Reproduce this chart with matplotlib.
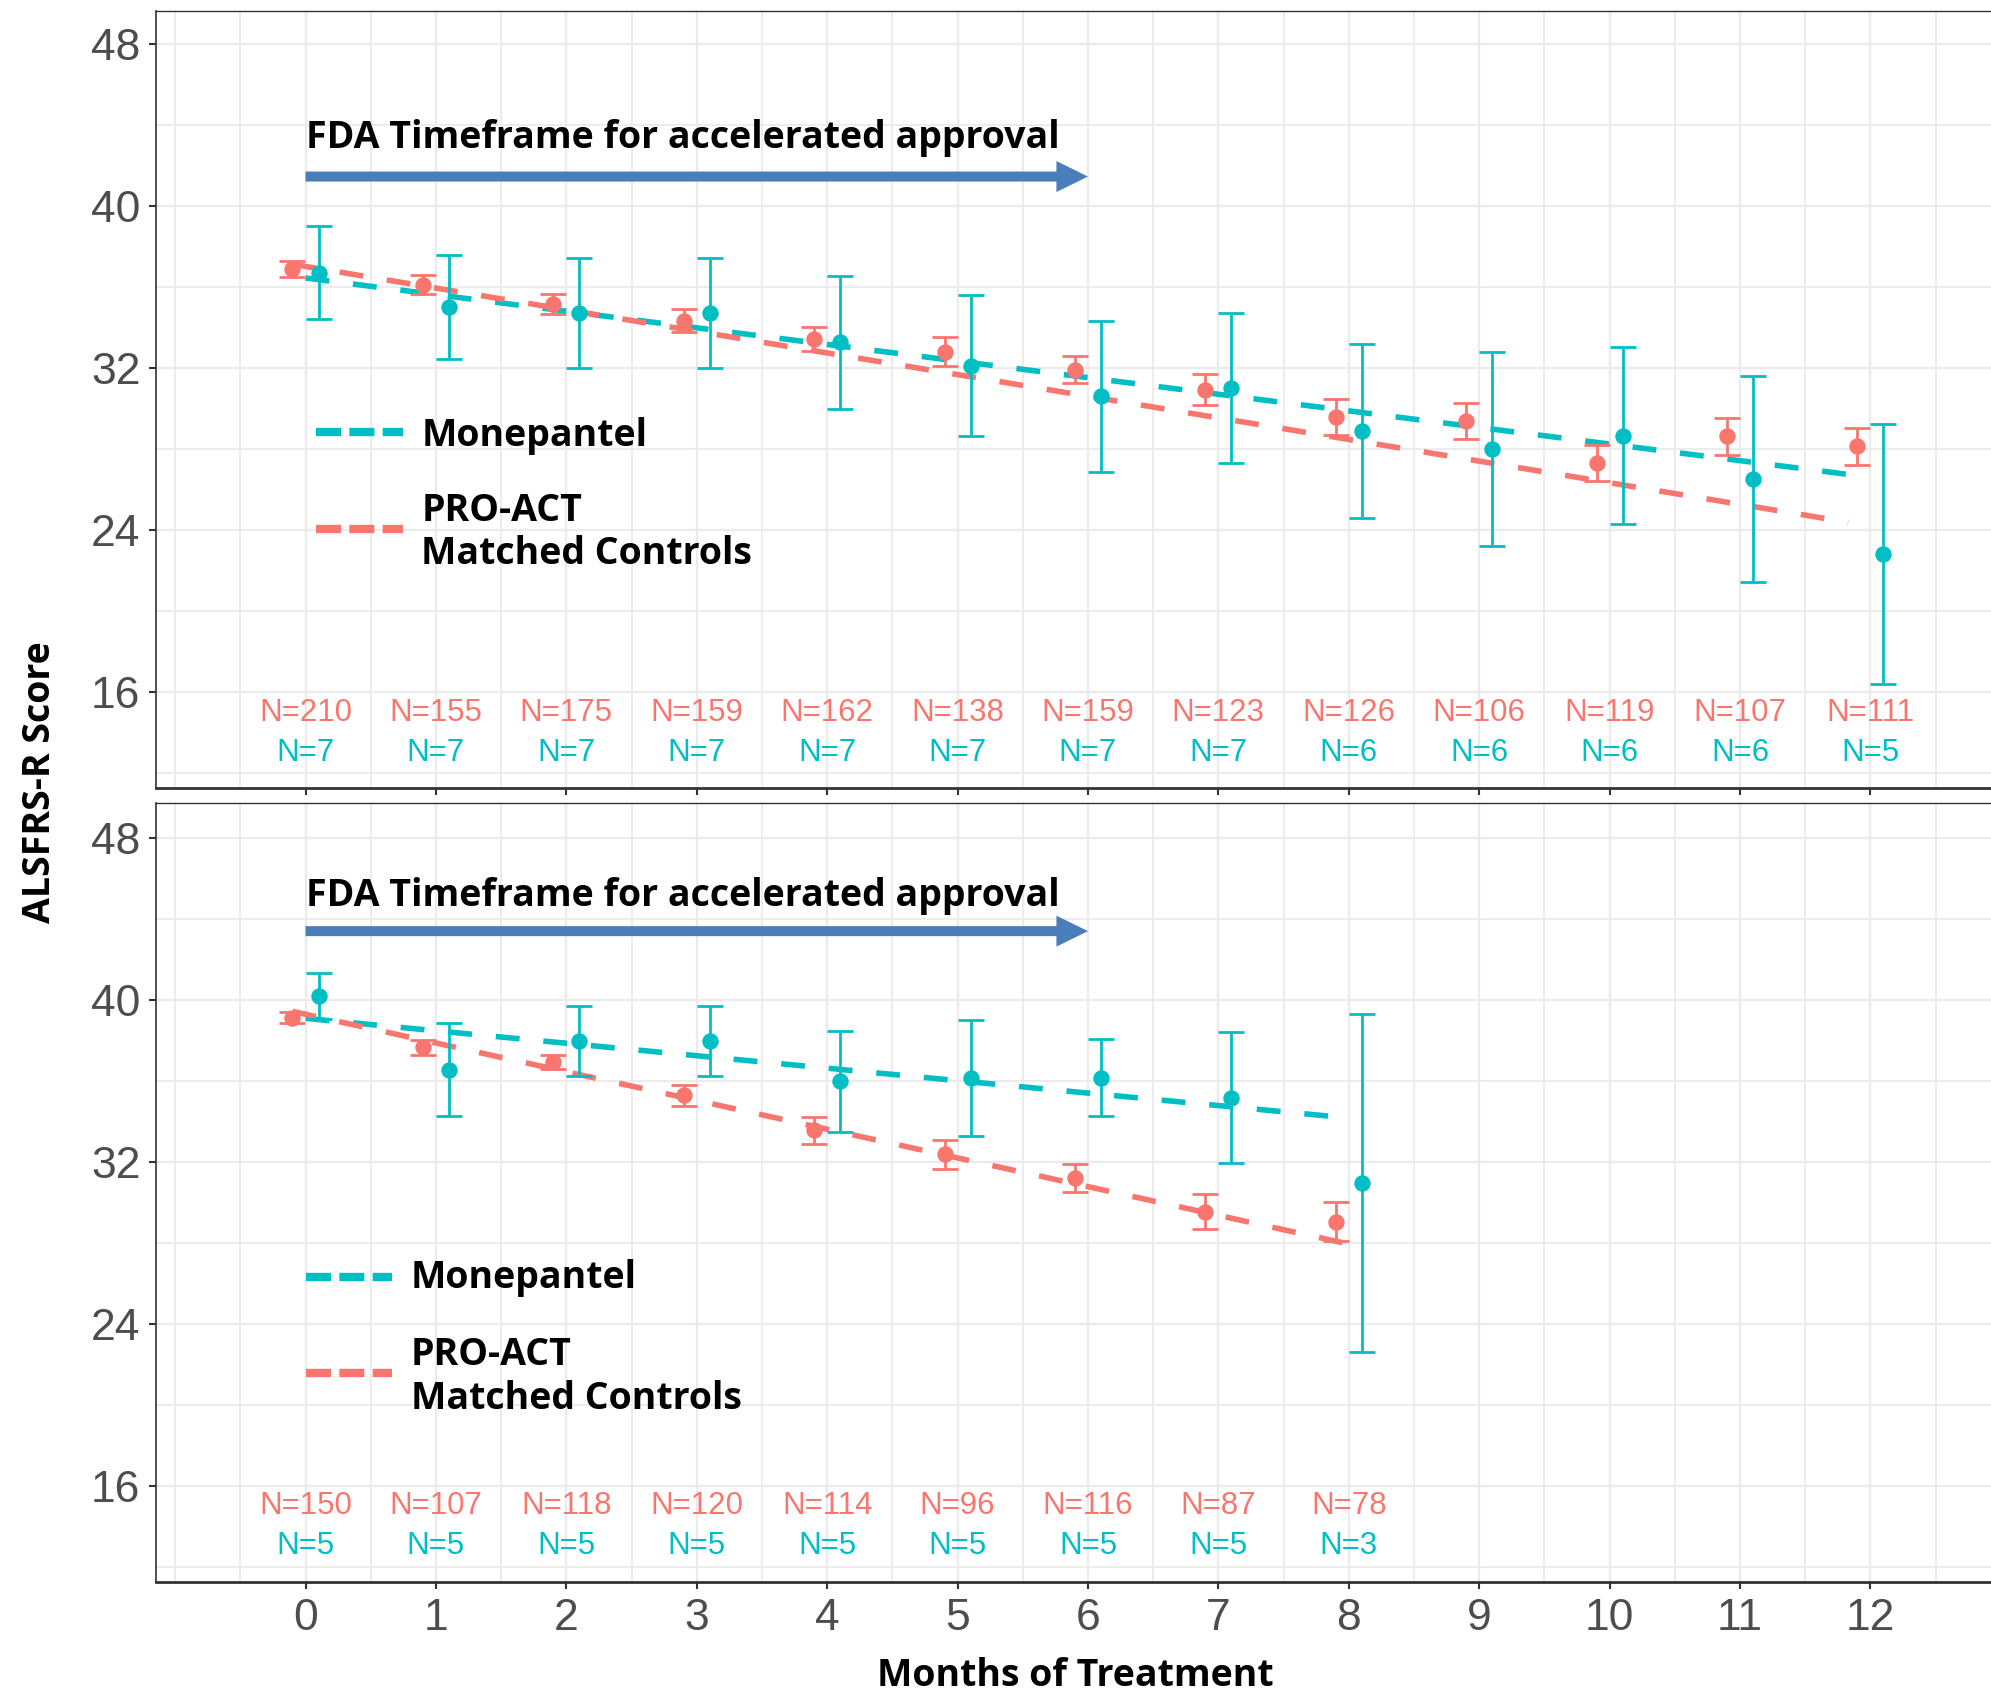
import matplotlib
matplotlib.use("Agg")
import numpy as np
import matplotlib.pyplot as plt

# ---- data ----
months_top = np.arange(13)
months_bot = np.arange(9)

# upper panel
pro_top_mean = [36.9, 36.13, 35.19, 34.36, 33.45, 32.83, 31.93, 30.95, 29.6, 29.38, 27.33, 28.64, 28.15]
pro_top_err = [0.4, 0.47, 0.5, 0.55, 0.58, 0.72, 0.67, 0.76, 0.87, 0.89, 0.9, 0.9, 0.9]
mon_top_mean = [36.73, 35.03, 34.73, 34.73, 33.28, 32.13, 30.61, 31.03, 28.89, 28.02, 28.68, 26.54, 22.84]
mon_top_err = [2.3, 2.55, 2.7, 2.73, 3.3, 3.47, 3.72, 3.7, 4.3, 4.8, 4.35, 5.1, 6.42]
pro_top_n = [210, 155, 175, 159, 162, 138, 159, 123, 126, 106, 119, 107, 111]
mon_top_n = [7, 7, 7, 7, 7, 7, 7, 7, 6, 6, 6, 6, 5]

# lower panel
pro_bot_mean = [39.14, 37.68, 36.94, 35.29, 33.56, 32.37, 31.22, 29.55, 29.05]
pro_bot_err = [0.29, 0.37, 0.36, 0.5, 0.66, 0.71, 0.7, 0.88, 0.97]
mon_bot_mean = [40.19, 36.56, 37.98, 37.98, 35.98, 36.17, 36.17, 35.18, 30.95]
mon_bot_err = [1.14, 2.3, 1.72, 1.72, 2.49, 2.87, 1.9, 3.25, 8.34]
pro_bot_n = [150, 107, 118, 120, 114, 96, 116, 87, 78]
mon_bot_n = [5, 5, 5, 5, 5, 5, 5, 5, 3]

# fitted trend lines: (x start, x end, intercept, slope)
mon_top_trend = (0.0, 11.9, 36.46, -0.820)
pro_top_trend = (-0.1, 11.83, 37.03, -1.068)
mon_bot_trend = (0.0, 7.92, 39.10, -0.616)
pro_bot_trend = (-0.1, 8.0, 39.30, -1.420)

fda_label = "FDA Timeframe for accelerated approval"
fda_months = (0, 6)

CYAN = "#00BFC4"
RED = "#F8766D"
ARROW_BLUE = "#4A7EBB"
GRID = "#EBEBEB"
DARK = "#333333"
TICK_TXT = "#4D4D4D"

BOLD = dict(family=["Open Sans", "DejaVu Sans"], fontweight="bold", fontsize=27, color="black")
SANS = ["Liberation Sans", "DejaVu Sans"]
DODGE = 0.1


def draw_panel(ax, months, pro_mean, pro_err, mon_mean, mon_err, pro_n, mon_n,
               pro_trend, mon_trend, ylim, fda_y, arrow_y, leg, show_xlabels):
    ax.set_xlim(-1.149, 12.925)
    ax.set_ylim(*ylim)

    ax.set_xticks(np.arange(0, 13))
    ax.set_xticks([v for v in np.arange(-1, 13, 0.5) if v < 0 or v % 1], minor=True)
    ax.set_yticks([16, 24, 32, 40, 48])
    ax.set_yticks([12, 20, 28, 36, 44], minor=True)
    ax.grid(which="major", color=GRID, lw=1.6)
    ax.grid(which="minor", color=GRID, lw=1.3)
    ax.set_axisbelow(True)

    ax.tick_params(which="major", length=5, width=1.5, color=DARK, labelsize=32,
                   labelcolor=TICK_TXT, pad=6)
    ax.tick_params(which="minor", length=0)
    ax.tick_params(axis="x", labelbottom=show_xlabels)
    for lab in ax.get_xticklabels() + ax.get_yticklabels():
        lab.set_family(SANS)

    ax.spines["right"].set_visible(False)
    ax.spines["top"].set_color(DARK)
    ax.spines["top"].set_linewidth(1.0)
    ax.spines["left"].set_color(DARK)
    ax.spines["left"].set_linewidth(1.2)
    ax.spines["bottom"].set_color(DARK)
    ax.spines["bottom"].set_linewidth(2.0)

    # trend lines
    for (x0, x1, b, s), col in ((mon_trend, CYAN), (pro_trend, RED)):
        xs = np.array([x0, x1])
        ax.plot(xs, b + s * xs, color=col, lw=4, ls=(0, (4.3, 4.3)), zorder=3)

    # means with error bars, dodged
    months = np.asarray(months)
    for x, m, e, col in ((months - DODGE, pro_mean, pro_err, RED),
                         (months + DODGE, mon_mean, mon_err, CYAN)):
        ax.errorbar(x, m, yerr=e, fmt="o", ms=10.8, color=col, elinewidth=2,
                    capsize=9.25, capthick=2, zorder=4)

    # sample sizes
    for m, n in zip(months, pro_n):
        ax.text(m, 15, f"N={n}", color=RED, ha="center", va="center", fontsize=22.5, family=SANS)
    for m, n in zip(months, mon_n):
        ax.text(m, 13, f"N={n}", color=CYAN, ha="center", va="center", fontsize=22.5, family=SANS)

    # FDA timeframe arrow
    ax.text(fda_months[0], fda_y, fda_label, ha="left", va="baseline", **BOLD)
    ax.annotate("", xy=(fda_months[1], arrow_y), xytext=(fda_months[0], arrow_y),
                arrowprops=dict(arrowstyle="simple,head_length=2.27,head_width=2.23,tail_width=0.72",
                                mutation_scale=10, color=ARROW_BLUE, lw=0,
                                shrinkA=0, shrinkB=0))

    # legend drawn inside the panel
    kx0, kx1, tx, y_mon, y_pro, t_mon, t_pro1, t_pro2 = leg
    ax.plot([kx0, kx1], [y_mon, y_mon], transform=ax.transAxes, color=CYAN, lw=6,
            ls=(0, (3, 1)), clip_on=False)
    ax.plot([kx0, kx1], [y_pro, y_pro], transform=ax.transAxes, color=RED, lw=6,
            ls=(0, (3, 1)), clip_on=False)
    ax.text(tx, t_mon, "Monepantel", transform=ax.transAxes, va="baseline", **BOLD)
    ax.text(tx, t_pro1, "PRO-ACT", transform=ax.transAxes, va="baseline", **BOLD)
    ax.text(tx, t_pro2, "Matched Controls", transform=ax.transAxes, va="baseline", **BOLD)


fig = plt.figure(figsize=(19.91, 16.97), dpi=100)
ax_top = fig.add_axes([0.0782, 0.53583, 0.9218, 0.45787])
ax_bot = fig.add_axes([0.0782, 0.06759, 0.9218, 0.45905])

draw_panel(ax_top, months_top, pro_top_mean, pro_top_err, mon_top_mean, mon_top_err,
           pro_top_n, mon_top_n, pro_top_trend, mon_top_trend,
           ylim=(11.29, 49.66), fda_y=42.87, arrow_y=41.47,
           leg=(0.0876, 0.1345, 0.1448, 0.4574, 0.3326, 0.4403, 0.3431, 0.2884),
           show_xlabels=False)
draw_panel(ax_bot, months_bot, pro_bot_mean, pro_bot_err, mon_bot_mean, mon_bot_err,
           pro_bot_n, mon_bot_n, pro_bot_trend, mon_bot_trend,
           ylim=(11.22, 49.73), fda_y=44.65, arrow_y=43.41,
           leg=(0.0818, 0.1288, 0.139, 0.3923, 0.2683, 0.3774, 0.2790, 0.2221),
           show_xlabels=True)

fig.text(0.0201, 0.5394, "ALSFRS-R Score", rotation=90, ha="center", va="center", **BOLD)
fig.text(0.5403, 0.0065, "Months of Treatment", ha="center", va="baseline", **BOLD)

fig.savefig("out.png", dpi=100)
